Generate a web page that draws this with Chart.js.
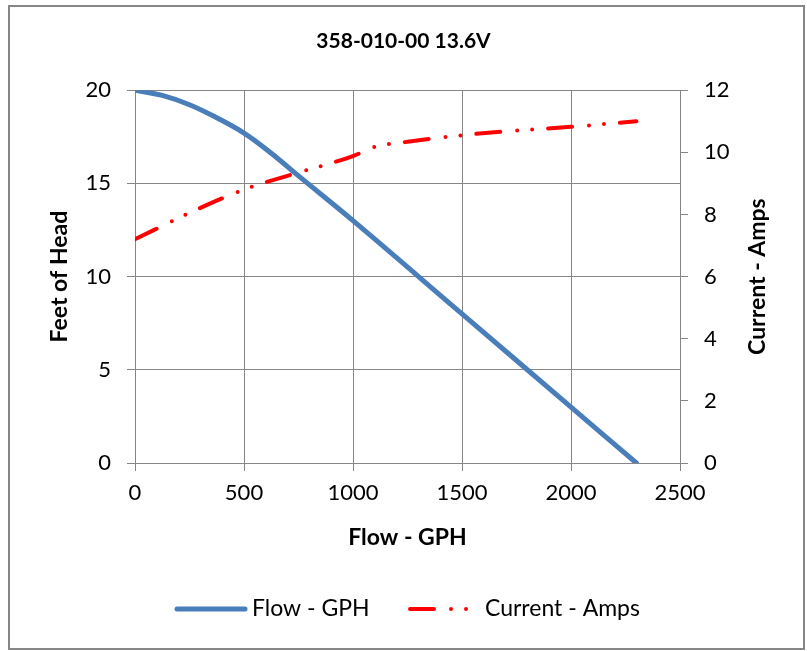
<!DOCTYPE html>
<html>
<head>
<meta charset="utf-8">
<script src="https://cdn.jsdelivr.net/npm/chart.js@4"></script>
<style>
  html, body { margin: 0; padding: 0; background: #fff; }
  #wrap { position: relative; width: 807px; height: 651px; }
</style>
</head>
<body>
<div id="wrap"><canvas id="pumpChart" width="807" height="651"></canvas></div>
<script>
// Flow curve (feet of head vs GPH)
const flowGph = [0, 125, 250, 375, 500, 625, 750, 1000, 1500, 2000, 2300];
const flowFeet = [20, 19.72, 19.22, 18.52, 17.7, 16.62, 15.4, 13, 8, 3, 0];

// Current curve (amps vs GPH)
const ampGph = [0, 250, 500, 750, 1000, 1100, 1250, 1500, 1750, 2000, 2300];
const ampValues = [7.2, 8.05, 8.8, 9.35, 9.88, 10.18, 10.34, 10.55, 10.7, 10.82, 11.0];

const xTicks = [0, 500, 1000, 1500, 2000, 2500];
const feetTicks = [0, 5, 10, 15, 20];
const ampTicks = [0, 2, 4, 6, 8, 10, 12];

const FONT = "Lato, 'Open Sans', sans-serif";
const GRID = "#868686";

const toPoints = (xs, ys) => xs.map((x, i) => ({ x, y: ys[i] }));

// legend slots: where each sample line starts and where its text starts
const legendSlots = [
  { lineFrom: 177, lineTo: 245, textX: 252 },
  { lineFrom: 410, lineTo: 470, textX: 485 }
];

// background, outer frame, right axis title and the legend
const extras = {
  id: "extras",
  beforeDraw(chart) {
    const ctx = chart.ctx;
    ctx.save();
    ctx.fillStyle = "#fff";
    ctx.fillRect(0, 0, chart.width, chart.height);
    ctx.strokeStyle = GRID;
    ctx.lineWidth = 2;
    ctx.strokeRect(9, 6, 795, 643);
    ctx.restore();
  },
  afterDraw(chart) {
    const ctx = chart.ctx;
    const area = chart.chartArea;
    const s = chart.scales.y1;

    ctx.save();
    ctx.translate(s.left + 78, (area.top + area.bottom) / 2);
    ctx.rotate(-Math.PI / 2);
    ctx.font = "bold 23px " + FONT;
    ctx.fillStyle = "#000";
    ctx.textAlign = "center";
    ctx.textBaseline = "middle";
    ctx.fillText("Current - Amps", 0, 0);
    ctx.restore();

    ctx.save();
    ctx.font = "23px " + FONT;
    ctx.textBaseline = "middle";
    ctx.fillStyle = "#000";
    const y = 609;
    chart.data.datasets.forEach((d, i) => {
      const slot = legendSlots[i];
      ctx.save();
      ctx.strokeStyle = d.borderColor;
      ctx.lineWidth = d.borderWidth;
      ctx.lineCap = "round";
      ctx.setLineDash(d.borderDash || []);
      ctx.beginPath();
      ctx.moveTo(slot.lineFrom, y);
      ctx.lineTo(slot.lineTo, y);
      ctx.stroke();
      ctx.restore();
      ctx.fillText(d.label, slot.textX, y);
    });
    ctx.restore();
  }
};

new Chart(document.getElementById("pumpChart"), {
  type: "line",
  data: {
    datasets: [
      {
        label: "Flow - GPH",
        data: toPoints(flowGph, flowFeet),
        yAxisID: "y",
        borderColor: "#4A7EBB",
        backgroundColor: "#4A7EBB",
        borderWidth: 5,
        pointRadius: 0,
        tension: 0.4,
        borderCapStyle: "round"
      },
      {
        label: "Current - Amps",
        data: toPoints(ampGph, ampValues),
        yAxisID: "y1",
        borderColor: "#FF0000",
        backgroundColor: "#FF0000",
        borderWidth: 4,
        borderDash: [24, 17, 0, 15, 0, 16],
        borderCapStyle: "round",
        pointRadius: 0,
        cubicInterpolationMode: "monotone"
      }
    ]
  },
  options: {
    responsive: false,
    animation: false,
    layout: { padding: { left: 12, right: 12, top: 0, bottom: 82 } },
    plugins: {
      title: {
        display: true,
        text: "358-010-00 13.6V",
        color: "#000",
        font: { family: FONT, size: 21, weight: "bold" },
        padding: { top: 29, bottom: 36 }
      },
      legend: { display: false },
      tooltip: { enabled: false }
    },
    scales: {
      x: {
        type: "linear",
        min: 0,
        max: 2500,
        afterBuildTicks: s => { s.ticks = xTicks.map(v => ({ value: v })); },
        afterFit: s => { s.height = 106; },
        grid: { color: GRID, tickLength: 8, tickColor: GRID },
        border: { color: GRID },
        ticks: {
          color: "#000",
          font: { family: FONT, size: 22 },
          padding: 9,
          maxRotation: 0,
          callback: v => String(v)
        },
        title: {
          display: true,
          text: "Flow - GPH",
          color: "#000",
          font: { family: FONT, size: 23, weight: "bold" },
          padding: { top: 0, bottom: 18 }
        }
      },
      y: {
        position: "left",
        min: 0,
        max: 20,
        afterBuildTicks: s => { s.ticks = feetTicks.map(v => ({ value: v })); },
        afterFit: s => { s.width = 123; },
        grid: { color: GRID, tickLength: 8, tickColor: GRID },
        border: { color: GRID },
        ticks: { color: "#000", font: { family: FONT, size: 22 }, padding: 16 },
        title: {
          display: true,
          text: "Feet of Head",
          color: "#000",
          font: { family: FONT, size: 23, weight: "bold" },
          padding: { top: 34, bottom: 0 }
        }
      },
      y1: {
        position: "right",
        min: 0,
        max: 12,
        afterBuildTicks: s => { s.ticks = ampTicks.map(v => ({ value: v })); },
        afterFit: s => { s.width = 115; },
        grid: { drawOnChartArea: false, color: GRID, tickLength: 8, tickColor: GRID },
        border: { color: GRID },
        ticks: { color: "#000", font: { family: FONT, size: 22 }, padding: 16 }
      }
    }
  },
  plugins: [extras]
});
</script>
</body>
</html>
